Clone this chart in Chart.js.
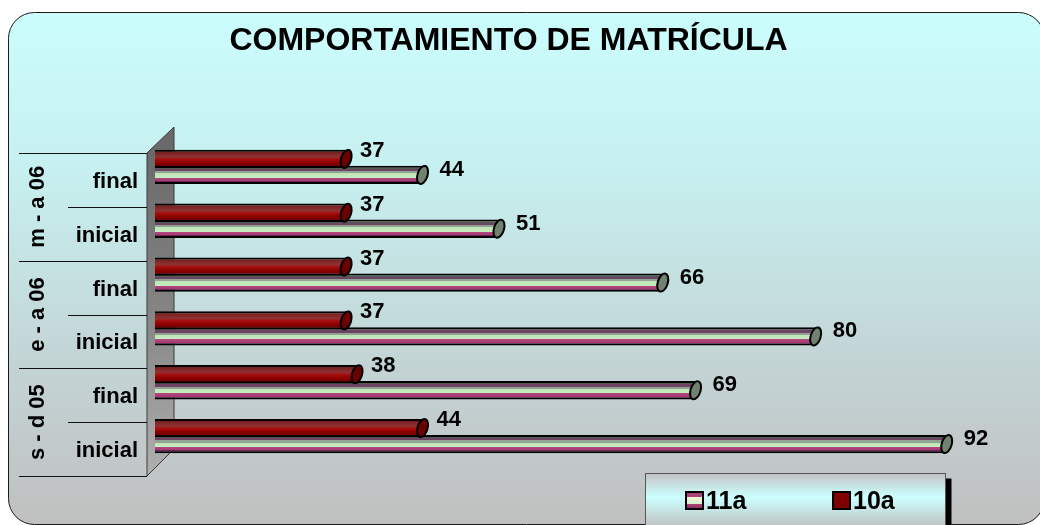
<!DOCTYPE html>
<html><head><meta charset="utf-8">
<script src="https://cdn.jsdelivr.net/npm/chart.js@4/dist/chart.umd.min.js"></script>
<style>html,body{margin:0;padding:0;background:#fff;overflow:hidden}#wrap{width:1040px;height:525px;position:relative}</style>
</head><body><div id="wrap"><canvas id="c" width="1040" height="525"></canvas></div>
<script>
const chartTitle = 'COMPORTAMIENTO DE MATRÍCULA';
const periods = ['m - a 06', 'e - a 06', 's - d 05'];
const phases = ['final', 'inicial'];
const categories = ['m - a 06 final', 'm - a 06 inicial', 'e - a 06 final', 'e - a 06 inicial', 's - d 05 final', 's - d 05 inicial'];
const seriesNames = ['10a', '11a'];
const series10a = [37, 37, 37, 37, 38, 44];
const series11a = [44, 51, 66, 80, 69, 92];

const FONT = '"Liberation Sans", Arial, sans-serif';
const CAT_PCT = 0.5945, BAR_PCT = 1.15;
const RED_STOPS = [[0,'#5a0808'],[0.15,'#7a2222'],[0.38,'#8e3232'],[0.52,'#a80e0e'],[0.72,'#8c0000'],[1,'#5e0000']];
const STRIPE_STOPS = [[0,'#505d50'],[0.17,'#505d50'],[0.17,'#6e4466'],[0.3,'#6e4466'],[0.3,'#93a391'],[0.42,'#93a391'],[0.42,'#bfe5b7'],[0.67,'#c8ecc0'],[0.67,'#b04a80'],[0.85,'#a8366f'],[0.85,'#6a2656'],[1,'#6a2656']];

function barCenterY(chart, di, i) {
  const ys = chart.scales.y;
  const band = Math.abs(ys.getPixelForValue(1) - ys.getPixelForValue(0));
  const chunk = band * CAT_PCT / 2;
  return ys.getPixelForValue(i) + (di - 0.5) * chunk;
}
function vGrad(ctx, y0, y1, stops) {
  const g = ctx.createLinearGradient(0, y0, 0, y1);
  stops.forEach(s => g.addColorStop(s[0], s[1]));
  return g;
}
function barFill(c) {
  const solid = c.datasetIndex === 0 ? '#800000' : '#b5dcae';
  if (c.type !== 'data' || !c.chart.scales || !c.chart.scales.y) return solid;
  const yc = barCenterY(c.chart, c.datasetIndex, c.dataIndex);
  if (!isFinite(yc)) return solid;
  return vGrad(c.chart.ctx, yc - 9, yc + 9, c.datasetIndex === 0 ? RED_STOPS : STRIPE_STOPS);
}

const framePlugin = {
  id: 'frame',
  beforeDraw(chart) {
    const ctx = chart.ctx;
    ctx.save();
    ctx.fillStyle = '#fff';
    ctx.fillRect(0, 0, chart.width, chart.height);
    const x = 8.5, y = 12.5, w = 1036, h = 512, r = 26;
    ctx.beginPath();
    ctx.roundRect(x, y, w, h, r);
    const g = ctx.createLinearGradient(0, y, 0, y + h);
    g.addColorStop(0, '#cbfdfd');
    g.addColorStop(0.3, '#c7f0f0');
    g.addColorStop(0.7, '#c3d3d4');
    g.addColorStop(1, '#c0c0c0');
    ctx.fillStyle = g;
    ctx.fill();
    ctx.lineWidth = 1;
    ctx.strokeStyle = '#1a1a1a';
    ctx.stroke();
    ctx.restore();
  }
};

const panelPlugin = {
  id: 'panel',
  beforeDatasetsDraw(chart) {
    const ctx = chart.ctx, ca = chart.chartArea;
    const n = categories.length;
    const band = (ca.bottom - ca.top) / n;
    const shift = 13;
    const top = ca.top + shift;
    const right = ca.left - 8;
    ctx.save();
    const depth = 27;
    ctx.beginPath();
    ctx.moveTo(right, top);
    ctx.lineTo(right + depth, top - 26);
    ctx.lineTo(right + depth, top + n * band - 27);
    ctx.lineTo(right, top + n * band);
    ctx.closePath();
    const wg = ctx.createLinearGradient(right, top, right + depth, top + n * band);
    wg.addColorStop(0, '#6a6a6a');
    wg.addColorStop(0.5, '#858585');
    wg.addColorStop(1, '#b0b0b0');
    ctx.fillStyle = wg;
    ctx.fill();
    ctx.strokeStyle = '#3a3a3a';
    ctx.lineWidth = 1;
    ctx.stroke();
    ctx.strokeStyle = '#111';
    ctx.lineWidth = 1;
    for (let i = 0; i <= n; i++) {
      const yy = Math.round(top + i * band) + 0.5;
      const x0 = (i % 2 === 0) ? 19 : 68;
      ctx.beginPath();
      ctx.moveTo(x0, yy);
      ctx.lineTo(right, yy);
      ctx.stroke();
    }
    ctx.fillStyle = '#000';
    ctx.font = 'bold 22px ' + FONT;
    ctx.textAlign = 'right';
    ctx.textBaseline = 'alphabetic';
    for (let i = 0; i < n; i++) {
      ctx.fillText(phases[i % 2], right - 9, top + (i + 0.5) * band + 8);
    }
    for (let g = 0; g < periods.length; g++) {
      const yc = top + (g * 2 + 1) * band;
      ctx.save();
      ctx.translate(44, yc);
      ctx.rotate(-Math.PI / 2);
      ctx.textAlign = 'center';
      ctx.fillText(periods[g], 0, 0);
      ctx.restore();
    }
    ctx.restore();
  }
};

const capsPlugin = {
  id: 'caps',
  afterDatasetDraw(chart, args) {
    const ctx = chart.ctx;
    const meta = args.meta;
    const di = args.index;
    ctx.save();
    meta.data.forEach(el => {
      ctx.beginPath();
      ctx.ellipse(el.x, el.y, 5, 9.3, 0.3, 0, Math.PI * 2);
      ctx.fillStyle = di === 0 ? '#6a0000' : '#718271';
      ctx.fill();
      ctx.lineWidth = 2;
      ctx.strokeStyle = '#000';
      ctx.stroke();
    });
    ctx.restore();
  }
};

const labelsPlugin = {
  id: 'vlabels',
  afterDatasetsDraw(chart) {
    const ctx = chart.ctx;
    ctx.save();
    ctx.fillStyle = '#000';
    ctx.font = 'bold 22px ' + FONT;
    ctx.textAlign = 'left';
    ctx.textBaseline = 'middle';
    chart.data.datasets.forEach((ds, di) => {
      const meta = chart.getDatasetMeta(di);
      meta.data.forEach((el, i) => {
        const dx = di === 0 ? 14 : 17;
        const dy = di === 0 ? -8 : -5;
        ctx.fillText(String(ds.data[i]), el.x + dx, el.y + dy);
      });
    });
    ctx.restore();
  }
};

const decorPlugin = {
  id: 'decor',
  afterDraw(chart) {
    const ctx = chart.ctx;
    ctx.save();
    ctx.fillStyle = '#000';
    ctx.font = 'bold 32px ' + FONT;
    ctx.textAlign = 'center';
    ctx.textBaseline = 'alphabetic';
    ctx.fillText(chartTitle, 508.5, 50);
    const lx = 645.5, ly = 473.5, lw = 300, lh = 60;
    ctx.fillStyle = '#000';
    ctx.fillRect(lx + lw, ly + 5, 6, lh);
    const lg = ctx.createLinearGradient(0, ly, 0, ly + 52);
    lg.addColorStop(0, '#c2c2c2');
    lg.addColorStop(0.45, '#ccffff');
    lg.addColorStop(1, '#c0c4c4');
    ctx.fillStyle = lg;
    ctx.fillRect(lx, ly, lw, lh);
    ctx.strokeStyle = '#555';
    ctx.lineWidth = 1;
    ctx.strokeRect(lx, ly, lw, lh);
    const items = [
      {name: seriesNames[1], sx: 686, tx: 706, kind: 1},
      {name: seriesNames[0], sx: 833, tx: 853, kind: 0}
    ];
    items.forEach(it => {
      const sy = 492, s = 17;
      if (it.kind === 1) {
        ctx.fillStyle = vGrad(ctx, sy, sy + s, [[0,'#a84478'],[0.3,'#a84478'],[0.3,'#f0f8d8'],[0.7,'#d8f0c8'],[0.7,'#a84478'],[1,'#8a2a60']]);
      } else {
        ctx.fillStyle = '#800000';
      }
      ctx.fillRect(it.sx, sy, s, s);
      ctx.lineWidth = 2;
      ctx.strokeStyle = '#000';
      ctx.strokeRect(it.sx, sy, s, s);
      ctx.fillStyle = '#000';
      ctx.font = 'bold 25px ' + FONT;
      ctx.textAlign = 'left';
      ctx.fillText(it.name, it.tx, 509);
    });
    ctx.restore();
  }
};

const barStyle = {
  categoryPercentage: CAT_PCT,
  barPercentage: BAR_PCT,
  backgroundColor: barFill,
  borderColor: '#000',
  borderWidth: 2,
  borderSkipped: false,
  borderRadius: {topLeft: 8, bottomLeft: 8, topRight: 0, bottomRight: 0}
};

new Chart(document.getElementById('c'), {
  type: 'bar',
  data: {
    labels: categories,
    datasets: [
      Object.assign({label: seriesNames[0], data: series10a}, barStyle),
      Object.assign({label: seriesNames[1], data: series11a}, barStyle)
    ]
  },
  options: {
    indexAxis: 'y',
    responsive: false,
    devicePixelRatio: 1,
    animation: false,
    layout: {padding: {left: 155, right: 11.4, top: 140, bottom: 62}},
    scales: {
      x: {type: 'linear', min: 19.5, max: 99.5, display: false},
      y: {type: 'category', display: false}
    },
    plugins: {colors: {enabled: false}, legend: {display: false}, title: {display: false}, tooltip: {enabled: false}}
  },
  plugins: [framePlugin, panelPlugin, capsPlugin, labelsPlugin, decorPlugin]
});
</script>
</body></html>
